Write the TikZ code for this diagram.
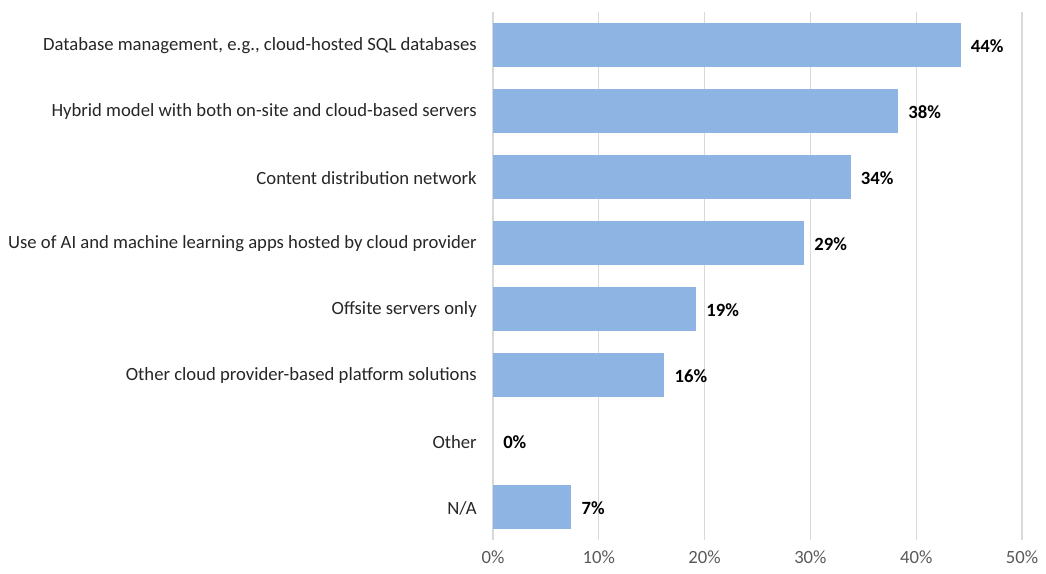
\documentclass[tikz,border=0pt]{standalone}
\usepackage{fontspec}
\setmainfont{Carlito}
\definecolor{barblue}{HTML}{8EB4E3}
\definecolor{gridgray}{HTML}{D9D9D9}
\definecolor{ticktext}{HTML}{595959}
\definecolor{cattext}{HTML}{262626}
\begin{document}
\begin{tikzpicture}[x=0.75pt,y=-0.75pt,
  bar/.style={fill=barblue,draw=none},
  gridline/.style={draw=gridgray,line width=0.9pt},
  catlabel/.style={anchor=east,inner sep=0pt,font=\fontsize{14}{16}\selectfont,text=cattext},
  vallabel/.style={anchor=west,inner sep=0pt,font=\fontsize{14}{16}\selectfont\bfseries,text=black},
  ticklabel/.style={anchor=center,inner sep=0pt,font=\fontsize{14}{16}\selectfont,text=ticktext}]
\useasboundingbox (0,0) rectangle (1046,574);
% vertical grid and axis labels
\foreach \p [count=\i from 0] in {0,10,20,30,40,50} {
  \pgfmathsetmacro{\gx}{493+\p*10.58}
  \draw[gridline] (\gx,12) -- (\gx,540);
  \node[ticklabel] (tick\i) at (\gx,557) {\p\%};
}
% bars: value, category label
\foreach \v/\lab/\txt [count=\i from 0] in {
  44.2/44\%/{Database management, e.g., cloud-hosted SQL databases},
  38.3/38\%/{Hybrid model with both on-site and cloud-based servers},
  33.8/34\%/{Content distribution network},
  29.4/29\%/{Use of AI and machine learning apps hosted by cloud provider},
  19.2/19\%/{Offsite servers only},
  16.2/16\%/{Other cloud provider-based platform solutions},
  0/0\%/{Other},
  7.4/7\%/{N/A}} {
  \pgfmathsetmacro{\cy}{45+\i*66}
  \pgfmathsetmacro{\bx}{493+\v*10.58}
  \ifdim\v pt>0pt
    \fill[bar] (493,\cy-22) rectangle (\bx,\cy+22);
  \fi
  \node[vallabel] (val\i) at (\bx+10,\cy+1) {\lab};
  \node[catlabel] (cat\i) at (477,\cy+1) {\txt};
}
\end{tikzpicture}
\end{document}
